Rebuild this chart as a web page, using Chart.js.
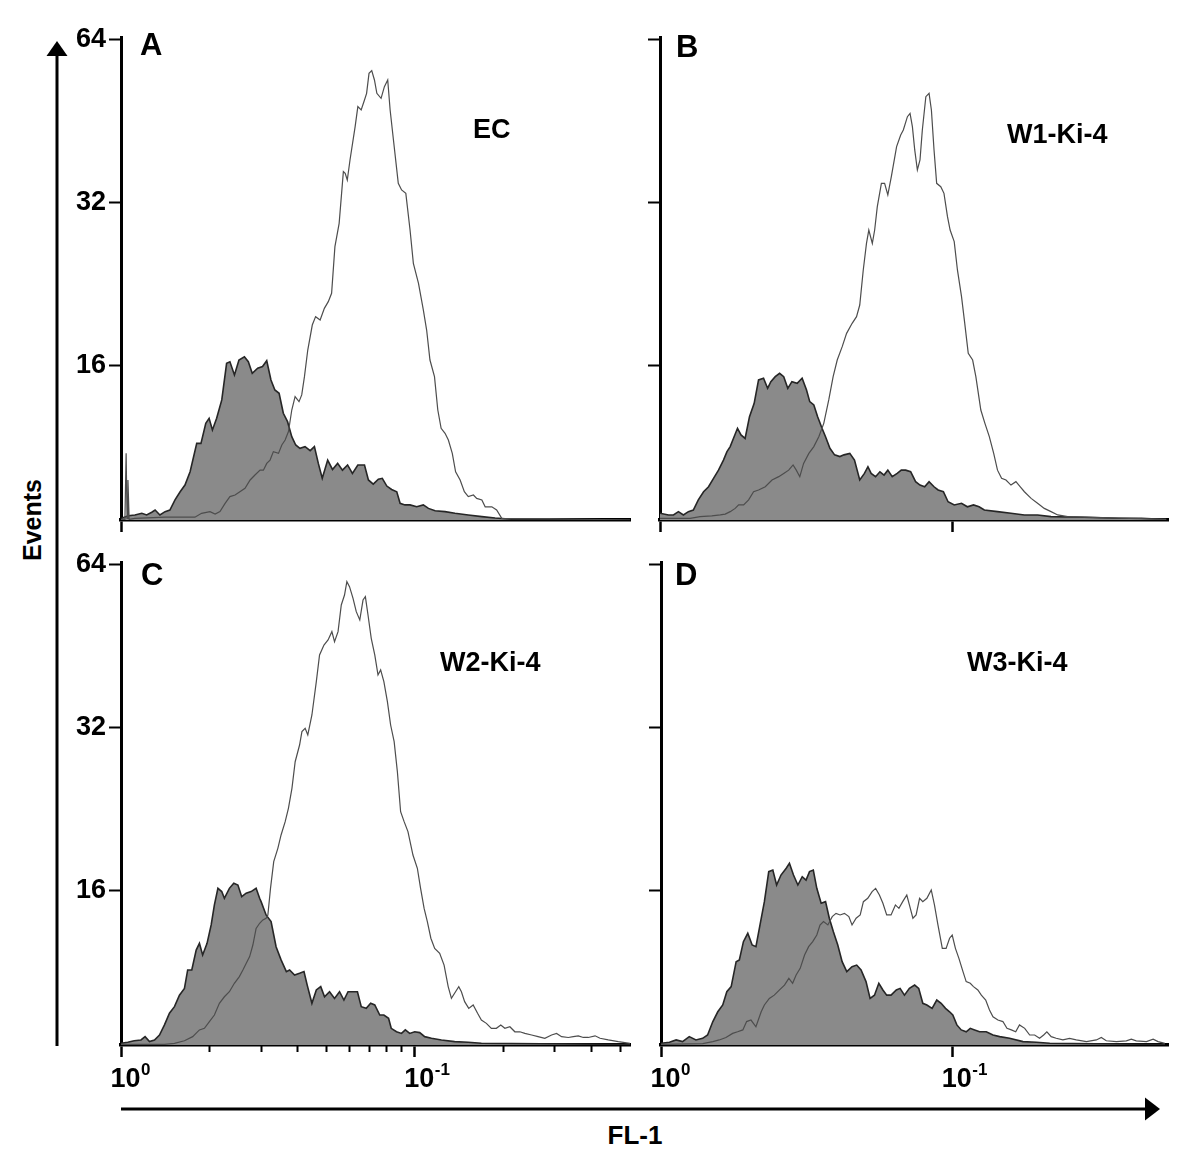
<!DOCTYPE html>
<html>
<head>
<meta charset="utf-8">
<script src="https://cdn.jsdelivr.net/npm/chart.js@4.4.1/dist/chart.umd.min.js"></script>
<style>
  body { margin: 0; background: #fff; width: 1200px; height: 1173px; position: relative; overflow: hidden;
         font-family: "Liberation Sans", Arial, sans-serif; }
  canvas { position: absolute; }
  .t { position: absolute; font-weight: bold; color: #000; white-space: nowrap; line-height: 1; }
</style>
</head>
<body>
<svg width="1200" height="1173" style="position:absolute;left:0;top:0">
  <line x1="57" y1="1046" x2="57" y2="52" stroke="#000" stroke-width="3"/>
  <polygon points="57,41 46.5,56 67.5,56" fill="#000"/>
  <line x1="121" y1="1109" x2="1148" y2="1109" stroke="#000" stroke-width="3"/>
  <polygon points="1160,1109 1145,1097.5 1145,1120.5" fill="#000"/>
</svg>

<canvas id="pA" width="590" height="530" style="left:50px;top:17px"></canvas>
<canvas id="pB" width="538" height="530" style="left:640px;top:17px"></canvas>
<canvas id="pC" width="590" height="563" style="left:50px;top:542px"></canvas>
<canvas id="pD" width="537" height="563" style="left:641px;top:542px"></canvas>

<div class="t" style="left:140px;top:29px;font-size:31px">A</div>
<div class="t" style="left:676px;top:31px;font-size:31px">B</div>
<div class="t" style="left:141px;top:559px;font-size:31px">C</div>
<div class="t" style="left:675px;top:559px;font-size:31px">D</div>
<div class="t" style="left:473px;top:116px;font-size:27px">EC</div>
<div class="t" style="left:1007px;top:121px;font-size:27px">W1-Ki-4</div>
<div class="t" style="left:440px;top:649px;font-size:27px">W2-Ki-4</div>
<div class="t" style="left:967px;top:649px;font-size:27px">W3-Ki-4</div>
<div class="t" style="left:32px;top:520px;font-size:25px;transform:translate(-50%,-50%) rotate(-90deg)">Events</div>
<div class="t" style="left:635px;top:1122px;font-size:26px;transform:translateX(-50%)">FL-1</div>

<script>
// y axis (Events, log scale) and x axis (FL-1, in decades)
const yTicks = [16, 32, 64];
const yMin = 8.3;
const yMax = 64.75;
const majorDecades = [0, 1];
const tickExponents = ['0', '-1'];
const minorDecades = [2, 3, 4, 5, 6, 7, 8, 9, 20, 30, 40, 50].map(k => Math.log10(k));

// [decade, events] - grey = control, open = stained
const ecControl = [[0.002,8.36],[0.024,8.45],[0.046,8.48],[0.069,8.54],[0.085,8.48],[0.102,8.58],[0.113,8.66],[0.129,8.48],[0.146,8.60],[0.162,8.66],[0.179,9.04],[0.196,9.36],[0.212,9.63],[0.229,10.19],[0.251,11.50],[0.265,11.50],[0.281,12.52],[0.292,12.79],[0.303,12.17],[0.317,12.79],[0.334,13.83],[0.350,16.16],[0.361,16.27],[0.376,15.38],[0.391,16.39],[0.409,16.62],[0.422,16.27],[0.435,15.49],[0.453,15.83],[0.469,15.94],[0.483,16.34],[0.497,15.06],[0.510,14.43],[0.524,14.23],[0.538,13.07],[0.552,12.61],[0.566,11.83],[0.579,11.42],[0.593,11.26],[0.610,11.34],[0.627,11.15],[0.641,11.34],[0.654,10.56],[0.667,9.91],[0.685,10.71],[0.701,10.29],[0.718,10.56],[0.734,10.26],[0.751,10.49],[0.767,10.12],[0.785,10.49],[0.807,10.49],[0.820,9.84],[0.836,9.67],[0.853,9.87],[0.866,9.91],[0.881,9.59],[0.897,9.45],[0.914,9.36],[0.925,8.91],[0.941,8.85],[0.958,8.85],[0.980,8.78],[1.002,8.85],[1.019,8.72],[1.041,8.63],[1.074,8.60],[1.107,8.54],[1.151,8.48],[1.196,8.42],[1.240,8.37],[1.306,8.32],[1.687,8.30]];
const ecStained = [[0.000,8.32],[0.013,8.32],[0.017,11.02],[0.020,8.36],[0.023,9.84],[0.027,8.32],[0.046,8.36],[0.146,8.40],[0.245,8.40],[0.267,8.54],[0.295,8.60],[0.312,8.51],[0.328,8.60],[0.345,8.91],[0.361,9.17],[0.378,9.23],[0.394,9.36],[0.411,9.50],[0.428,9.84],[0.444,10.05],[0.461,10.26],[0.472,10.26],[0.483,10.56],[0.494,10.71],[0.505,11.10],[0.522,11.02],[0.533,11.42],[0.544,11.66],[0.555,12.09],[0.566,13.25],[0.577,14.03],[0.590,13.73],[0.599,14.13],[0.608,15.27],[0.619,17.10],[0.634,19.02],[0.645,19.71],[0.660,19.43],[0.674,20.42],[0.687,21.01],[0.698,21.77],[0.709,26.54],[0.723,29.31],[0.737,36.52],[0.743,36.26],[0.750,35.25],[0.759,38.38],[0.776,44.22],[0.785,48.15],[0.796,47.47],[0.807,49.53],[0.814,50.96],[0.822,55.48],[0.831,56.11],[0.840,53.93],[0.848,50.96],[0.862,49.89],[0.873,52.42],[0.884,53.93],[0.892,47.47],[0.903,41.78],[0.919,34.75],[0.930,33.78],[0.944,33.30],[0.958,28.49],[0.969,24.73],[0.986,22.71],[1.002,20.28],[1.013,18.62],[1.024,16.39],[1.039,15.27],[1.050,13.25],[1.061,12.26],[1.074,12.00],[1.085,11.66],[1.098,11.02],[1.109,10.19],[1.124,9.84],[1.138,9.36],[1.151,9.17],[1.168,9.23],[1.179,9.10],[1.196,9.04],[1.207,8.78],[1.229,8.78],[1.245,8.66],[1.262,8.36],[1.306,8.35],[1.417,8.35],[1.687,8.30]];

const w1Control = [[0.000,8.54],[0.029,8.48],[0.046,8.48],[0.063,8.60],[0.080,8.48],[0.097,8.60],[0.114,8.66],[0.131,9.04],[0.149,9.36],[0.166,9.56],[0.183,9.91],[0.200,10.26],[0.217,10.71],[0.229,11.10],[0.240,11.34],[0.251,11.74],[0.265,12.26],[0.277,11.92],[0.291,11.74],[0.306,12.88],[0.322,13.63],[0.337,15.06],[0.354,15.17],[0.368,14.53],[0.379,14.95],[0.394,15.27],[0.409,15.49],[0.423,15.27],[0.437,14.53],[0.451,14.95],[0.469,14.84],[0.486,15.17],[0.501,14.43],[0.512,13.73],[0.526,13.54],[0.539,12.88],[0.554,12.26],[0.566,11.83],[0.581,11.26],[0.597,10.95],[0.615,10.87],[0.629,10.95],[0.649,11.02],[0.665,10.71],[0.683,9.84],[0.699,10.12],[0.711,10.41],[0.722,10.12],[0.737,9.98],[0.752,10.19],[0.766,10.05],[0.779,10.26],[0.794,9.98],[0.811,10.12],[0.825,10.26],[0.840,10.26],[0.857,10.19],[0.874,9.77],[0.889,9.63],[0.905,9.56],[0.920,9.77],[0.937,9.56],[0.951,9.43],[0.969,9.36],[0.985,8.97],[1.006,8.85],[1.031,8.91],[1.051,8.78],[1.072,8.85],[1.091,8.78],[1.109,8.66],[1.154,8.60],[1.200,8.54],[1.246,8.48],[1.291,8.48],[1.337,8.42],[1.451,8.40],[1.566,8.36],[1.646,8.36],[1.731,8.32]];
const w1Stained = [[0.000,8.36],[0.103,8.36],[0.137,8.42],[0.177,8.45],[0.206,8.48],[0.223,8.51],[0.240,8.60],[0.257,8.72],[0.269,8.85],[0.286,8.85],[0.303,9.04],[0.320,9.36],[0.337,9.43],[0.360,9.56],[0.383,9.84],[0.406,9.98],[0.423,10.12],[0.440,10.26],[0.455,10.49],[0.466,10.26],[0.478,9.98],[0.491,10.56],[0.509,11.02],[0.526,11.34],[0.543,11.83],[0.560,12.52],[0.577,13.83],[0.592,15.27],[0.606,16.39],[0.623,17.35],[0.638,18.36],[0.657,19.16],[0.672,19.71],[0.683,20.71],[0.695,24.04],[0.706,26.92],[0.714,28.49],[0.726,26.92],[0.734,28.49],[0.743,31.47],[0.757,34.75],[0.768,34.75],[0.779,33.07],[0.791,35.75],[0.809,40.62],[0.823,42.69],[0.832,43.60],[0.846,46.14],[0.855,46.80],[0.863,44.22],[0.871,40.05],[0.880,36.78],[0.889,38.38],[0.897,43.60],[0.909,50.24],[0.920,50.96],[0.928,47.47],[0.937,40.05],[0.946,34.75],[0.960,34.26],[0.971,33.30],[0.983,30.16],[0.992,28.49],[1.006,27.12],[1.017,24.04],[1.031,21.46],[1.042,19.16],[1.054,16.86],[1.069,16.39],[1.080,15.27],[1.097,13.25],[1.111,12.52],[1.126,11.83],[1.141,11.02],[1.154,10.26],[1.168,9.91],[1.183,9.84],[1.200,9.63],[1.217,9.77],[1.232,9.56],[1.246,9.36],[1.269,9.10],[1.291,8.91],[1.314,8.72],[1.337,8.60],[1.360,8.48],[1.394,8.42],[1.451,8.40],[1.731,8.32]];

const w2Control = [[0.000,8.36],[0.023,8.40],[0.045,8.45],[0.068,8.48],[0.082,8.60],[0.097,8.42],[0.114,8.48],[0.131,8.66],[0.148,9.04],[0.165,9.50],[0.182,9.77],[0.199,10.26],[0.216,10.56],[0.227,11.42],[0.241,11.42],[0.256,12.43],[0.267,12.79],[0.278,12.17],[0.293,12.79],[0.307,13.83],[0.318,15.06],[0.330,16.16],[0.343,15.94],[0.352,15.49],[0.369,16.16],[0.384,16.51],[0.398,16.39],[0.411,15.60],[0.426,15.83],[0.443,15.94],[0.460,16.16],[0.472,15.49],[0.477,15.27],[0.494,14.43],[0.511,14.03],[0.528,12.61],[0.545,11.92],[0.563,11.34],[0.574,11.42],[0.591,11.18],[0.608,11.26],[0.623,11.34],[0.634,10.71],[0.650,9.91],[0.665,10.49],[0.680,10.64],[0.693,10.19],[0.710,10.41],[0.727,10.12],[0.744,10.41],[0.759,10.05],[0.773,10.41],[0.790,10.41],[0.805,10.41],[0.818,9.77],[0.835,9.70],[0.850,9.91],[0.864,9.84],[0.881,9.43],[0.895,9.43],[0.911,9.30],[0.920,8.91],[0.938,8.78],[0.955,8.72],[0.968,8.85],[0.983,8.72],[1.000,8.78],[1.017,8.75],[1.034,8.60],[1.057,8.54],[1.091,8.48],[1.136,8.42],[1.182,8.40],[1.227,8.36],[1.733,8.32]];
const w2Stained = [[0.000,8.32],[0.148,8.32],[0.182,8.36],[0.216,8.45],[0.244,8.60],[0.267,8.85],[0.284,8.91],[0.301,9.17],[0.318,9.43],[0.335,9.91],[0.352,10.19],[0.369,10.41],[0.386,10.79],[0.403,11.10],[0.415,11.42],[0.426,11.74],[0.438,12.09],[0.449,12.70],[0.460,13.63],[0.472,13.93],[0.483,14.13],[0.494,14.23],[0.500,14.43],[0.509,16.16],[0.520,18.10],[0.534,19.16],[0.545,20.28],[0.559,21.46],[0.570,22.71],[0.582,24.73],[0.593,27.69],[0.608,29.73],[0.616,31.47],[0.627,31.92],[0.636,31.03],[0.650,33.78],[0.665,38.93],[0.676,43.60],[0.691,45.49],[0.705,46.47],[0.718,48.15],[0.727,46.14],[0.739,48.15],[0.750,53.93],[0.761,56.27],[0.769,59.56],[0.778,58.30],[0.790,55.48],[0.801,52.42],[0.813,50.60],[0.824,55.08],[0.832,55.87],[0.841,51.69],[0.852,46.80],[0.864,43.60],[0.875,40.05],[0.884,40.91],[0.895,38.93],[0.907,35.75],[0.918,32.37],[0.930,30.16],[0.941,26.54],[0.952,22.39],[0.964,21.46],[0.977,20.57],[0.994,18.62],[1.009,17.60],[1.020,16.16],[1.032,14.84],[1.043,14.03],[1.055,13.07],[1.068,12.52],[1.085,12.26],[1.100,11.66],[1.114,10.64],[1.125,10.12],[1.139,10.41],[1.150,10.64],[1.159,10.41],[1.170,9.98],[1.184,9.70],[1.199,9.84],[1.214,9.50],[1.227,9.23],[1.244,9.10],[1.261,8.91],[1.278,8.91],[1.293,9.04],[1.307,8.91],[1.324,8.97],[1.341,8.78],[1.358,8.78],[1.375,8.72],[1.398,8.66],[1.420,8.60],[1.443,8.54],[1.466,8.66],[1.483,8.72],[1.500,8.60],[1.523,8.57],[1.540,8.60],[1.557,8.63],[1.574,8.57],[1.591,8.57],[1.614,8.63],[1.631,8.54],[1.659,8.48],[1.693,8.42],[1.733,8.36]];

const w3Control = [[0.000,8.36],[0.029,8.40],[0.052,8.48],[0.074,8.42],[0.097,8.60],[0.120,8.48],[0.143,8.54],[0.160,8.66],[0.178,9.17],[0.195,9.56],[0.212,9.84],[0.226,10.41],[0.241,10.64],[0.258,11.83],[0.269,11.92],[0.283,12.88],[0.298,13.35],[0.313,12.70],[0.326,12.61],[0.340,13.83],[0.355,15.27],[0.370,17.35],[0.384,17.47],[0.397,16.39],[0.412,17.10],[0.430,17.60],[0.441,17.98],[0.455,17.10],[0.470,16.39],[0.485,16.98],[0.498,16.74],[0.510,17.35],[0.523,17.47],[0.535,16.16],[0.550,15.17],[0.565,15.27],[0.578,14.23],[0.592,13.44],[0.607,12.70],[0.622,11.83],[0.638,11.34],[0.656,11.58],[0.672,11.66],[0.687,11.42],[0.704,10.87],[0.718,10.12],[0.733,10.26],[0.748,10.79],[0.762,10.49],[0.775,10.26],[0.790,10.26],[0.808,10.49],[0.821,10.56],[0.836,10.26],[0.853,10.56],[0.871,10.71],[0.885,10.56],[0.899,9.91],[0.913,9.84],[0.931,9.70],[0.947,10.05],[0.962,9.91],[0.977,9.70],[0.991,9.56],[1.002,9.43],[1.016,9.04],[1.031,8.85],[1.048,8.78],[1.062,8.91],[1.077,8.85],[1.094,8.78],[1.117,8.78],[1.140,8.66],[1.163,8.60],[1.197,8.54],[1.243,8.42],[1.289,8.40],[1.335,8.36],[1.730,8.32]];
const w3Stained = [[0.000,8.32],[0.143,8.35],[0.178,8.42],[0.200,8.48],[0.223,8.57],[0.246,8.72],[0.263,8.78],[0.281,8.85],[0.294,9.17],[0.309,9.23],[0.326,8.97],[0.344,9.56],[0.355,9.84],[0.372,10.12],[0.389,10.26],[0.407,10.49],[0.424,10.71],[0.439,11.02],[0.452,10.79],[0.464,11.18],[0.478,11.50],[0.493,12.17],[0.507,12.61],[0.521,12.88],[0.535,13.25],[0.546,13.83],[0.558,14.03],[0.573,13.83],[0.588,14.33],[0.601,14.53],[0.615,14.43],[0.630,14.53],[0.645,14.33],[0.656,13.83],[0.670,14.23],[0.684,14.43],[0.695,15.27],[0.710,15.49],[0.725,15.94],[0.737,16.16],[0.750,15.71],[0.762,15.17],[0.775,14.43],[0.790,14.43],[0.805,15.06],[0.817,14.84],[0.830,15.27],[0.844,15.71],[0.853,15.06],[0.865,14.23],[0.876,14.43],[0.888,15.49],[0.899,15.27],[0.913,15.49],[0.928,16.05],[0.939,15.06],[0.951,13.83],[0.966,12.52],[0.979,12.52],[0.991,13.07],[1.000,13.25],[1.011,12.52],[1.023,12.00],[1.037,11.34],[1.048,10.87],[1.062,10.79],[1.073,10.64],[1.088,10.49],[1.100,10.26],[1.115,10.05],[1.128,9.63],[1.140,9.36],[1.157,9.23],[1.174,9.17],[1.188,8.91],[1.203,8.85],[1.218,8.78],[1.231,9.04],[1.249,8.91],[1.266,8.66],[1.283,8.66],[1.300,8.54],[1.314,8.66],[1.325,8.78],[1.340,8.60],[1.357,8.54],[1.380,8.48],[1.403,8.54],[1.426,8.48],[1.461,8.42],[1.495,8.48],[1.512,8.57],[1.529,8.45],[1.564,8.42],[1.598,8.45],[1.615,8.51],[1.632,8.45],[1.667,8.42],[1.690,8.51],[1.707,8.42],[1.730,8.36]];

const FONT = "'Liberation Sans', Arial, sans-serif";
const toPts = arr => arr.map(p => ({ x: p[0], y: p[1] }));

// "10" with a raised exponent under each major x tick
const powerLabels = {
  id: 'powerLabels',
  afterDraw(chart, args, opts) {
    if (!opts.show) return;
    const { ctx } = chart;
    const sx = chart.scales.x;
    const base = chart.chartArea.bottom + 42;
    ctx.save();
    ctx.fillStyle = '#000';
    ctx.textBaseline = 'alphabetic';
    ctx.textAlign = 'left';
    majorDecades.forEach((v, i) => {
      const px = sx.getPixelForValue(v) - 10.5;
      ctx.font = 'bold 27px ' + FONT;
      ctx.fillText('10', px, base);
      const w = ctx.measureText('10').width;
      ctx.font = 'bold 17px ' + FONT;
      ctx.fillText(tickExponents[i], px + w + 0.5, base - 12);
    });
    ctx.restore();
  }
};

function drawPanel(id, stained, control, o) {
  const scales = {
    x: {
      type: 'linear', min: 0, max: o.xMax, weight: 1,
      afterBuildTicks: s => { s.ticks = o.majors.map(v => ({ value: v })); },
      afterFit: s => { s.height = o.xH; },
      grid: { drawOnChartArea: false, drawTicks: true, tickLength: 12, tickWidth: 2.5, tickColor: '#000' },
      border: { display: true, color: '#000', width: 3.5 },
      ticks: { display: false }
    },
    y: {
      type: 'logarithmic', min: yMin, max: yMax,
      afterBuildTicks: s => { s.ticks = yTicks.map(v => ({ value: v })); },
      afterFit: s => { s.width = o.yW; },
      grid: { drawOnChartArea: false, drawTicks: true, tickLength: 12, tickWidth: 2, tickColor: '#000' },
      border: { display: true, color: '#000', width: 3 },
      ticks: {
        display: o.yLabels, padding: 3, color: '#000',
        font: { family: FONT, size: 27, weight: 'bold' },
        callback: v => String(v)
      }
    }
  };
  if (o.minor) {
    scales.xm = {
      type: 'linear', min: 0, max: o.xMax, position: 'bottom', weight: 0,
      afterBuildTicks: s => { s.ticks = minorDecades.filter(v => v < o.xMax).map(v => ({ value: v })); },
      afterFit: s => { s.height = 0; },
      grid: { drawOnChartArea: false, drawTicks: true, tickLength: 7, tickWidth: 2, tickColor: '#000' },
      border: { display: false },
      ticks: { display: false }
    };
  }
  new Chart(document.getElementById(id), {
    type: 'line',
    data: {
      datasets: [
        { data: toPts(stained), borderColor: '#4d4d4d', borderWidth: 1.2, fill: false, pointRadius: 0, tension: 0 },
        { data: toPts(control), borderColor: '#262626', borderWidth: 1.6, backgroundColor: '#8a8a8a', fill: 'start', pointRadius: 0, tension: 0 }
      ]
    },
    options: {
      responsive: false, animation: false, devicePixelRatio: 1,
      layout: { padding: { left: 0, top: 20, right: 10, bottom: o.padB } },
      plugins: { legend: { display: false }, tooltip: { enabled: false }, powerLabels: { show: o.xLabels } },
      scales
    },
    plugins: [powerLabels]
  });
}

drawPanel('pA', ecStained, ecControl, { xMax: 1.687, majors: [0], xLabels: false, yLabels: true, yW: 71, xH: 20, padB: 7 });
drawPanel('pB', w1Stained, w1Control, { xMax: 1.737, majors: [0, 1], xLabels: false, yLabels: false, yW: 20, xH: 20, padB: 7 });
drawPanel('pC', w2Stained, w2Control, { xMax: 1.733, majors: [0, 1], minor: true, xLabels: true, yLabels: true, yW: 71, xH: 55, padB: 5 });
drawPanel('pD', w3Stained, w3Control, { xMax: 1.741, majors: [0, 1], xLabels: true, yLabels: false, yW: 20, xH: 55, padB: 5 });
</script>
</body>
</html>
